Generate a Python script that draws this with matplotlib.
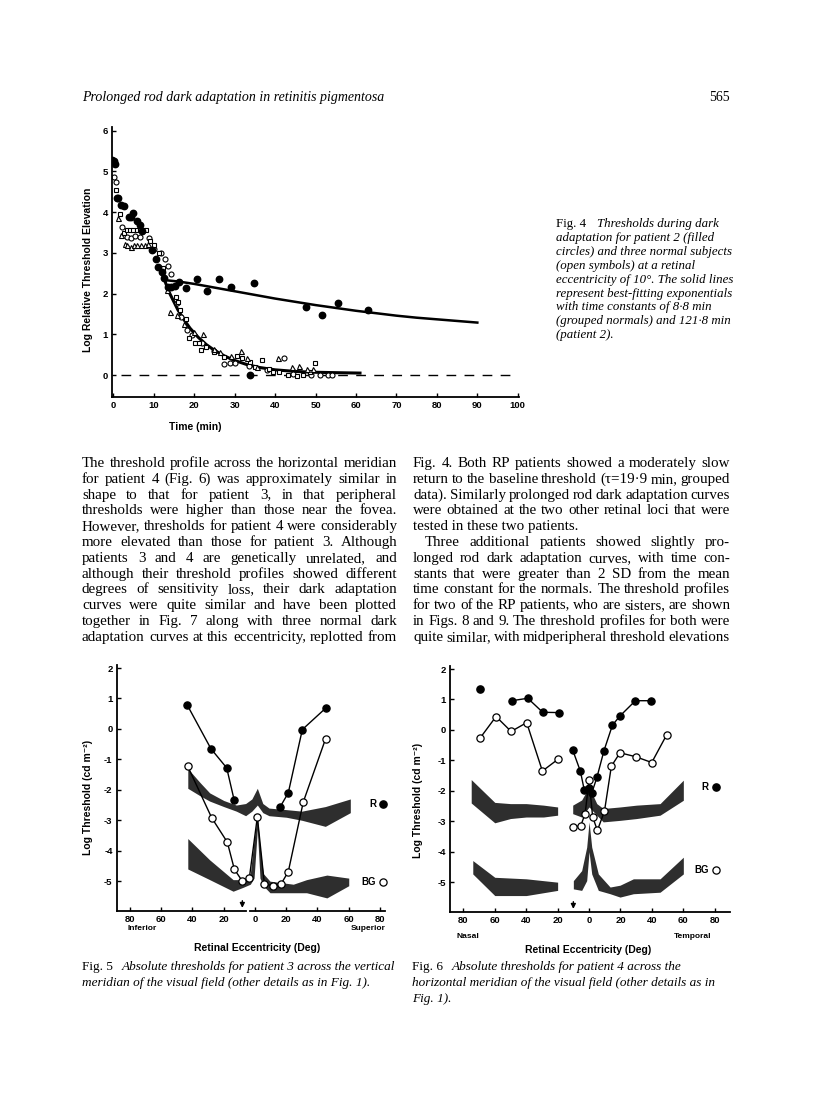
import matplotlib
matplotlib.use('Agg')
import matplotlib.pyplot as plt

# ---- datos Fig. 4 (tiempo en min, log elevacion relativa) ----
p2_t = [-0.3, 0.1, 0.4, 0.9, 1.2, 2.0, 2.6, 3.9, 4.5, 4.9, 6.0, 6.6, 7.2, 9.7, 10.5,
        11.1, 12.0, 12.6, 13.5, 14.3, 15.3, 16.2, 18.1, 20.6, 23.2, 26.1, 29.1, 33.7,
        34.7, 47.7, 51.7, 55.5, 63.0]
p2_y = [5.28, 5.26, 5.18, 4.36, 4.36, 4.17, 4.15, 3.89, 3.88, 3.97, 3.79, 3.68, 3.55, 3.07, 2.86,
        2.66, 2.52, 2.39, 2.17, 2.17, 2.19, 2.29, 2.15, 2.35, 2.06, 2.37, 2.17, 0.0,
        2.25, 1.68, 1.47, 1.78, 1.61]

n1_t = [0.1, 0.6, 2.2, 3.3, 4.3, 5.4, 6.5, 8.9, 10.2, 11.7, 12.8, 13.5, 14.2, 15.7, 16.7,
        18.3, 19.5, 22.0, 24.8, 27.3, 28.8, 30.2, 33.5, 38.0, 42.3, 44.5, 49.0, 51.0, 53.0, 54.2]
n1_y = [4.87, 4.75, 3.64, 3.38, 3.36, 3.42, 3.40, 3.36, 3.10, 2.99, 2.86, 2.68, 2.48, 1.76, 1.43,
        1.10, 0.98, 0.80, 0.60, 0.27, 0.30, 0.30, 0.22, 0.12, 0.41, 0.02, 0.0, 0.0, 0.0, 0.0]

n2_t = [0.7, 1.7, 2.7, 3.3, 4.2, 5.0, 5.8, 6.6, 7.4, 8.2, 9.2, 10.2, 11.2, 12.4, 14.2, 15.4,
        16.0, 16.6, 17.9, 18.7, 20.1, 21.3, 21.8, 23.0, 25.0, 27.3, 30.6, 31.8, 33.9, 35.1,
        36.8, 38.4, 39.6, 41.0, 43.3, 45.4, 47.0, 48.6, 49.9]
n2_y = [4.54, 3.95, 3.48, 3.56, 3.56, 3.56, 3.56, 3.56, 3.56, 3.56, 3.30, 3.19, 3.00, 2.62, 2.20, 1.92,
        1.80, 1.60, 1.39, 0.90, 0.78, 0.78, 0.61, 0.68, 0.56, 0.45, 0.47, 0.41, 0.33, 0.20,
        0.38, 0.16, 0.07, 0.07, 0.0, -0.02, 0.0, 0.08, 0.29]

n3_t = [1.1, 1.9, 2.9, 3.5, 4.3, 5.1, 5.9, 6.8, 7.8, 8.6, 13.4, 14.0, 15.8, 17.5, 19.9, 22.2,
        24.9, 26.5, 29.0, 31.6, 33.0, 35.5, 40.8, 44.1, 45.8, 47.8, 49.5]
n3_y = [3.85, 3.44, 3.23, 3.19, 3.15, 3.19, 3.19, 3.19, 3.19, 3.22, 2.09, 1.55, 1.47, 1.25, 1.06, 1.00,
        0.65, 0.57, 0.47, 0.60, 0.41, 0.20, 0.43, 0.20, 0.23, 0.16, 0.14]

# curvas ajustadas
fit_n_t = [12.3, 13, 14, 15, 16, 17.5, 19, 21, 23, 25, 27.5, 30, 33, 36, 40, 45, 50, 55, 61]
fit_n_y = [2.45, 2.25, 2.0, 1.8, 1.6, 1.36, 1.15, 0.93, 0.75, 0.61, 0.47, 0.36, 0.26, 0.19, 0.13,
           0.09, 0.07, 0.06, 0.05]
fit_p_t = [13, 16, 20, 25, 30, 35, 40, 45, 50, 55, 60, 65, 70, 75, 80, 85, 90]
fit_p_y = [2.33, 2.30, 2.24, 2.15, 2.06, 1.97, 1.88, 1.80, 1.72, 1.65, 1.58, 1.52, 1.46, 1.41,
           1.37, 1.33, 1.29]

# ---- datos Fig. 5 (excentricidad en grados, log umbral) ----
f5_r_x = [-43.3, -28.2, -18.1, -13.4]
f5_r_y = [0.78, -0.65, -1.28, -2.32]
f5_r2_x = [16.0, 21.3, 30.3, 45.4]
f5_r2_y = [-2.57, -2.10, -0.02, 0.69]
f5_bg_x = [-43.1, -27.7, -17.7, -13.2, -8.1, -3.6, 1.5, 6.0, 11.7, 16.6, 21.3, 30.9, 45.2]
f5_bg_y = [-1.22, -2.92, -3.72, -4.61, -5.0, -4.89, -2.89, -5.08, -5.16, -5.10, -4.69, -2.40, -0.32]

f5_band_r_x = [-43, -35, -29, -20, -12, -6, -2, 1.5, 5, 9, 20, 30, 45, 61]
f5_band_r_hi = [-1.3, -1.77, -2.1, -2.35, -2.5, -2.45, -2.3, -1.95, -2.45, -2.6, -2.65, -2.7, -2.55, -2.3]
f5_band_r_lo = [-1.95, -2.2, -2.37, -2.55, -2.7, -2.85, -2.7, -2.5, -2.75, -2.85, -2.9, -3.0, -3.2, -2.75]
f5_band_bg_x = [-43, -29, -14, -7.5, -3, -0.6, 1.5, 3.2, 5.3, 9.6, 24.5, 33, 46, 60]
f5_band_bg_hi = [-3.6, -4.3, -4.95, -4.95, -4.75, -3.65, -2.85, -3.85, -4.75, -5.0, -5.1, -4.95, -4.8, -4.9]
f5_band_bg_lo = [-4.6, -4.95, -5.33, -5.2, -5.1, -4.9, -3.3, -4.9, -5.15, -5.38, -5.38, -5.38, -5.55, -5.15]

# ---- datos Fig. 6 ----
f6_r_solo_x = [-69.4]
f6_r_solo_y = [1.35]
f6_r_x = [-49.2, -39.0, -29.5, -19.3]
f6_r_y = [0.96, 1.04, 0.58, 0.57]
f6_r2_x = [-10.4, -5.5, -3.1, 0.0, 1.8, 5.0, 9.5, 14.9, 19.7, 29.5, 39.7]
f6_r2_y = [-0.66, -1.36, -1.96, -1.90, -2.06, -1.56, -0.68, 0.16, 0.46, 0.96, 0.96]
f6_bg_x = [-69.4, -59.2, -49.6, -39.7, -29.7, -19.7]
f6_bg_y = [-0.27, 0.44, -0.05, 0.24, -1.35, -0.96]
f6_bg2_x = [-10.4, -5.3, -2.5, 0.0, 2.3, 5.3, 9.8, 14.2, 19.7, 29.7, 39.9, 49.4]
f6_bg2_y = [-3.19, -3.15, -2.75, -1.65, -2.86, -3.30, -2.67, -1.19, -0.75, -0.88, -1.07, -0.16]

f6_band_r_x = [-75, -60, -50, -40, -29, -20]
f6_band_r_hi = [-1.63, -2.38, -2.42, -2.42, -2.47, -2.53]
f6_band_r_lo = [-2.40, -3.05, -2.91, -2.86, -2.86, -2.80]
f6_band_r2_x = [-10.4, -4.7, 0, 4.9, 9, 19.7, 30.3, 45.2, 60]
f6_band_r2_hi = [-2.47, -2.30, -1.87, -2.42, -2.58, -2.53, -2.47, -2.42, -1.65]
f6_band_r2_lo = [-2.75, -2.86, -2.53, -2.80, -3.02, -2.97, -2.91, -2.80, -2.31]
f6_band_bg_x = [-74, -60, -40, -20]
f6_band_bg_hi = [-4.29, -4.84, -4.89, -5.0]
f6_band_bg_lo = [-4.73, -5.44, -5.44, -5.27]
f6_band_bg2_x = [-10, -4.7, -1.5, 0, 1.7, 5.9, 13.4, 19.7, 28.2, 45.2, 60]
f6_band_bg2_hi = [-4.95, -4.62, -3.85, -3.02, -3.85, -4.73, -5.16, -5.10, -4.89, -4.89, -4.18]
f6_band_bg2_lo = [-5.22, -5.27, -4.95, -4.0, -4.73, -5.27, -5.38, -5.49, -5.38, -5.33, -4.73]

ecc_ticks = [-80, -60, -40, -20, 0, 20, 40, 60, 80]
ecc_labels = ['80', '60', '40', '20', '0', '20', '40', '60', '80']

# ---- texto ----
header = 'Prolonged rod dark adaptation in retinitis pigmentosa'
page_no = '565'
cap4 = ['Thresholds during dark',
        'adaptation for patient 2 (filled',
        'circles) and three normal subjects',
        '(open symbols) at a retinal',
        'eccentricity of 10°. The solid lines',
        'represent best-fitting exponentials',
        'with time constants of 8·8 min',
        '(grouped normals) and 121·8 min',
        '(patient 2).']
col_izq = ['The threshold profile across the horizontal meridian',
           'for patient 4 (Fig. 6) was approximately similar in',
           'shape to that for patient 3, in that peripheral',
           'thresholds were higher than those near the fovea.',
           'However, thresholds for patient 4 were considerably',
           'more elevated than those for patient 3. Although',
           'patients 3 and 4 are genetically unrelated, and',
           'although their threshold profiles showed different',
           'degrees of sensitivity loss, their dark adaptation',
           'curves were quite similar and have been plotted',
           'together in Fig. 7 along with three normal dark',
           'adaptation curves at this eccentricity, replotted from']
col_der = ['Fig. 4. Both RP patients showed a moderately slow',
           'return to the baseline threshold (τ=19·9 min, grouped',
           'data). Similarly prolonged rod dark adaptation curves',
           'were obtained at the two other retinal loci that were',
           'tested in these two patients.',
           'Three additional patients showed slightly pro-',
           'longed rod dark adaptation curves, with time con-',
           'stants that were greater than 2 SD from the mean',
           'time constant for the normals. The threshold profiles',
           'for two of the RP patients, who are sisters, are shown',
           'in Figs. 8 and 9. The threshold profiles for both were',
           'quite similar, with midperipheral threshold elevations']
cap5 = ['Absolute thresholds for patient 3 across the vertical',
        'meridian of the visual field (other details as in Fig. 1).']
cap6 = ['Absolute thresholds for patient 4 across the',
        'horizontal meridian of the visual field (other details as in',
        'Fig. 1).']

W, H = 816, 1109
plt.rcParams['font.family'] = ['Liberation Sans', 'DejaVu Sans']
plt.rcParams['font.weight'] = 'bold'
fig = plt.figure(figsize=(W / 100, H / 100), dpi=100)
fig.patch.set_facecolor('white')
SERIF = ['Liberation Serif', 'DejaVu Serif']


def fx(px):
    return px / W


def fy(py):
    return 1 - py / H


def estilo_ejes(ax):
    ax.spines['top'].set_visible(False)
    ax.spines['right'].set_visible(False)
    ax.spines['left'].set_linewidth(1.3)
    ax.spines['bottom'].set_linewidth(1.3)
    ax.tick_params(direction='in', length=3, width=1, labelsize=6.8, pad=3)
    for lab in ax.get_xticklabels() + ax.get_yticklabels():
        lab.set_fontweight('bold')
    ax.patch.set_alpha(0)


# ---------------- Fig. 4 ----------------
ax4 = fig.add_axes([fx(112), fy(396.7), (519 - 112) / W, (396.7 - 126.7) / H])
ax4.set_xlim(-0.3, 100.3)
ax4.set_ylim(-0.53, 6.1)
ax4.set_xticks(range(0, 101, 10))
ax4.set_yticks(range(0, 7))
estilo_ejes(ax4)
ax4.plot([2, 100], [0, 0], color='black', lw=1, dashes=(7, 6))
ax4.plot(fit_n_t, fit_n_y, color='black', lw=2.2)
ax4.plot(fit_p_t, fit_p_y, color='black', lw=1.8)
ax4.plot(n1_t, n1_y, 'o', ms=3.6, mfc='white', mec='black', mew=0.8)
ax4.plot(n2_t, n2_y, 's', ms=3.4, mfc='white', mec='black', mew=0.8)
ax4.plot(n3_t, n3_y, '^', ms=3.6, mfc='white', mec='black', mew=0.8)
ax4.plot(p2_t, p2_y, 'o', ms=4.6, color='black')
fig.text(fx(88), fy(270), 'Log Relative Threshold Elevation', rotation=90,
         ha='center', va='center', fontsize=7.5, fontweight='bold')
fig.text(fx(195), fy(427), 'Time (min)', ha='center', va='center', fontsize=7.5, fontweight='bold')


# ---------------- Fig. 5 y Fig. 6 ----------------
def panel(rect, xlim, bandas, series, sueltos, gap=None, flecha_x=-8, rx=(75, 82), ry=(-2.48, -5.03)):
    ax = fig.add_axes(rect)
    ax.set_xlim(*xlim)
    ax.set_ylim(-5.97, 2.1)
    ax.set_xticks(ecc_ticks)
    ax.set_xticklabels(ecc_labels)
    ax.set_yticks(range(-5, 3))
    ax.set_yticklabels(['-5', '-4', '-3', '-2', '-1', '0', '1', '2'])
    estilo_ejes(ax)
    if gap is not None:
        ax.spines['bottom'].set_visible(False)
        ax.plot([xlim[0], gap[0]], [-5.97, -5.97], color='black', lw=1.3, clip_on=False)
        ax.plot([gap[1], xlim[1]], [-5.97, -5.97], color='black', lw=1.3, clip_on=False)
    for bx, hi, lo in bandas:
        ax.fill_between(bx, lo, hi, color='#2e2e2e', lw=0, zorder=1)
    for sx, sy, relleno in series:
        ax.plot(sx, sy, '-o', color='black', lw=1, ms=5.2, mew=0.9,
                mfc='black' if relleno else 'white', mec='black', zorder=3)
    for sx, sy in sueltos:
        ax.plot(sx, sy, 'o', ms=5.2, color='black', zorder=3)
    ax.annotate('', xy=(flecha_x, -5.97), xytext=(flecha_x, -5.55),
                arrowprops=dict(arrowstyle='-|>', color='black', lw=1, mutation_scale=7),
                annotation_clip=False)
    ax.text(rx[0], ry[0], 'R', ha='center', va='center', fontsize=7, fontweight='bold')
    ax.plot([rx[1]], [ry[0]], 'o', ms=5.2, color='black', clip_on=False)
    ax.text(rx[1] - 4.5, ry[1], 'BG', ha='right', va='center', fontsize=7, fontweight='bold')
    ax.plot([rx[1]], [ry[1]], 'o', ms=5.2, mfc='white', mec='black', mew=0.9, clip_on=False)
    return ax


panel([fx(116.7), fy(910.7), (385 - 116.7) / W, (910.7 - 665) / H], (-88.5, 83.2),
      [(f5_band_r_x, f5_band_r_hi, f5_band_r_lo), (f5_band_bg_x, f5_band_bg_hi, f5_band_bg_lo)],
      [(f5_r_x, f5_r_y, True), (f5_r2_x, f5_r2_y, True), (f5_bg_x, f5_bg_y, False)],
      [], gap=(-6, -3.2), flecha_x=-8.1, rx=(75.5, 82), ry=(-2.48, -5.03))
fig.text(fx(88), fy(797), 'Log Threshold (cd m⁻²)', rotation=90, ha='center', va='center',
         fontsize=7.5, fontweight='bold')
fig.text(fx(142), fy(929), 'Inferior', ha='center', va='center', fontsize=6, fontweight='bold')
fig.text(fx(368), fy(929), 'Superior', ha='center', va='center', fontsize=6, fontweight='bold')
fig.text(fx(257), fy(948), 'Retinal Eccentricity (Deg)', ha='center', va='center',
         fontsize=7.5, fontweight='bold')

panel([fx(450), fy(911.7), (730 - 450) / W, (911.7 - 666) / H], (-88.5, 89.7),
      [(f6_band_r_x, f6_band_r_hi, f6_band_r_lo), (f6_band_r2_x, f6_band_r2_hi, f6_band_r2_lo),
       (f6_band_bg_x, f6_band_bg_hi, f6_band_bg_lo), (f6_band_bg2_x, f6_band_bg2_hi, f6_band_bg2_lo)],
      [(f6_r_x, f6_r_y, True), (f6_r2_x, f6_r2_y, True), (f6_bg_x, f6_bg_y, False),
       (f6_bg2_x, f6_bg2_y, False)],
      [(f6_r_solo_x, f6_r_solo_y)], flecha_x=-10, rx=(74, 80.5), ry=(-1.87, -4.6))
fig.text(fx(418), fy(800), 'Log Threshold (cd m⁻²)', rotation=90, ha='center', va='center',
         fontsize=7.5, fontweight='bold')
fig.text(fx(468), fy(936), 'Nasal', ha='center', va='center', fontsize=6, fontweight='bold')
fig.text(fx(693), fy(937), 'Temporal', ha='center', va='center', fontsize=6, fontweight='bold')
fig.text(fx(588), fy(950), 'Retinal Eccentricity (Deg)', ha='center', va='center',
         fontsize=7.5, fontweight='bold')

# ---------------- texto de la pagina ----------------
renderer = fig.canvas.get_renderer()


def linea_justificada(x0, x1, base, linea, size):
    palabras = linea.split(' ')
    objs = [fig.text(0, fy(base), p, fontsize=size, family=SERIF, fontweight='normal',
                     va='baseline', ha='left') for p in palabras]
    anchos = [o.get_window_extent(renderer).width for o in objs]
    hueco = (x1 - x0 - sum(anchos)) / max(len(objs) - 1, 1)
    x = x0
    for o, a in zip(objs, anchos):
        o.set_x(fx(x))
        x += a + hueco


def linea_normal(x0, base, linea, size, italic=False):
    fig.text(fx(x0), fy(base), linea, fontsize=size, family=SERIF, fontweight='normal',
             style='italic' if italic else 'normal', va='baseline', ha='left')


linea_normal(82, 101, header, 10, italic=True)
fig.text(fx(730), fy(101), page_no, fontsize=10, family=SERIF, fontweight='normal',
         va='baseline', ha='right')

# Fig. 4 leyenda
linea_normal(556, 227, 'Fig. 4', 9.3)
for i, l in enumerate(cap4):
    linea_normal(597 if i == 0 else 556, 227 + i * 13.9, l, 9.3, italic=True)

# columnas
BL = 467
ESP = 15.8
TAM = 10.8
for i, l in enumerate(col_izq):
    linea_justificada(82, 397, BL + i * ESP, l, TAM)
for i, l in enumerate(col_der):
    if i == 4:
        linea_normal(413, BL + i * ESP, l, TAM)
    elif i == 5:
        linea_justificada(425, 730, BL + i * ESP, l, TAM)
    else:
        linea_justificada(413, 730, BL + i * ESP, l, TAM)

# leyendas Fig. 5 y 6
linea_normal(82, 970, 'Fig. 5', 9.5)
linea_normal(122, 970, cap5[0], 9.5, italic=True)
linea_normal(82, 986, cap5[1], 9.5, italic=True)
linea_normal(412, 970, 'Fig. 6', 9.5)
linea_normal(452, 970, cap6[0], 9.5, italic=True)
linea_normal(412, 986, cap6[1], 9.5, italic=True)
linea_normal(412, 1002, cap6[2], 9.5, italic=True)

fig.savefig('out.png', dpi=100)
